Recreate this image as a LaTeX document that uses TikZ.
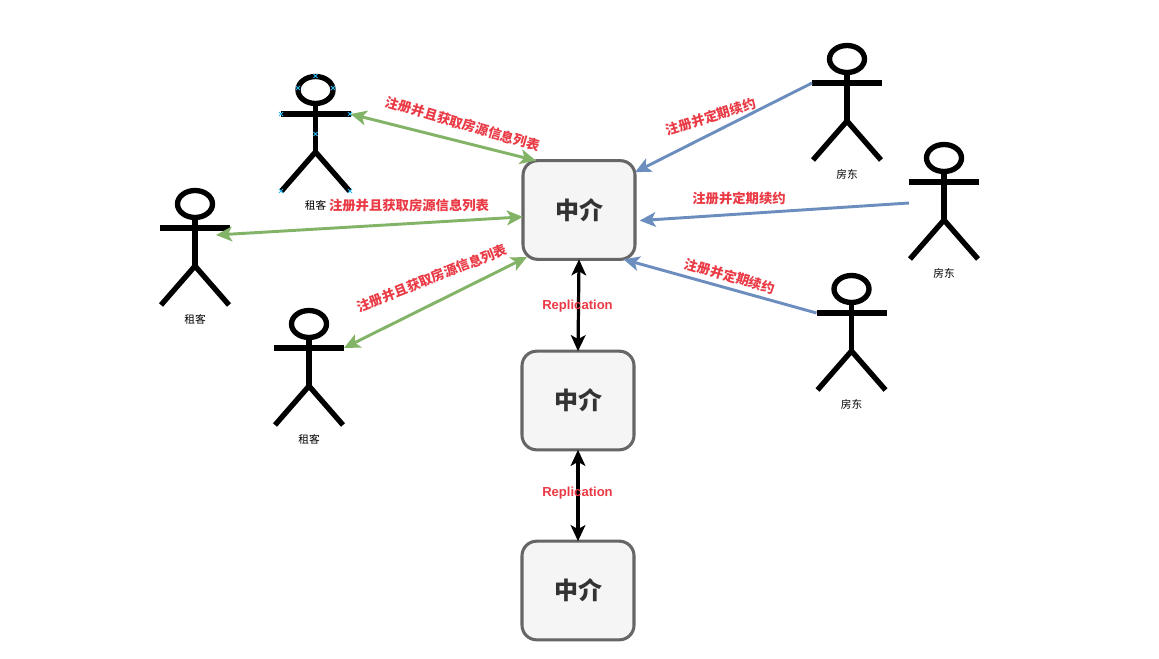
\documentclass[tikz,border=0pt]{standalone}
\usepackage{fontspec}
\setmainfont{Liberation Sans}
\newfontfamily\cjk{Noto Sans CJK SC}
\usetikzlibrary{arrows.meta}
\definecolor{boxgray}{HTML}{666666}
\definecolor{boxfill}{HTML}{F5F5F5}
\definecolor{tenantgreen}{HTML}{82B366}
\definecolor{ownerblue}{HTML}{6C8EBF}
\definecolor{notered}{HTML}{EA3A45}
\definecolor{handleblue}{HTML}{29B6F2}
\tikzset{broker/.style={draw=boxgray,fill=boxfill,line width=2.3pt,rounded corners=11pt,
   minimum width=84pt,minimum height=74pt,outer sep=0pt,text=black!80,font=\cjk\bfseries\fontsize{18}{18}\selectfont},
 man/.style={line width=4pt,black},
 manname/.style={font=\cjk\fontsize{8}{8}\selectfont},
 note/.style={text=notered,font=\cjk\bfseries\fontsize{10}{10}\selectfont,inner sep=0pt},
 repnote/.style={text=notered,font=\bfseries\fontsize{9.8}{10}\selectfont,inner sep=0pt},
 bigtip/.tip={Stealth[length=12pt,width=11pt,inset=3pt]},
 greenline/.style={line width=2.2pt,tenantgreen,bigtip-bigtip},
 blueline/.style={line width=2.2pt,ownerblue,-bigtip},
 blackline/.style={line width=2.4pt,black,bigtip-bigtip},
 }
% name, x, y of the arm line, text
\newcommand{\stickman}[4]{
        \draw[man] (#2,#3-24) ellipse (17.5 and 13.5);
        \draw[man] (#2,#3-10) -- (#2,#3+38);
        \draw[man] (#2-35,#3) -- (#2+35,#3);
        \draw[man] (#2-34,#3+77) -- (#2,#3+38) -- (#2+34,#3+77);
        \coordinate (#1-l) at (#2-35,#3);
        \coordinate (#1-r) at (#2+35,#3);
        \node[manname] (#1-name) at (#2,#3+91) {#4};
}
\begin{document}
\begin{tikzpicture}[x=0.75pt,y=-0.75pt]
        \useasboundingbox[fill=white] (0,0) rectangle (1159,659);

        \node[broker] (brokera) at (579,210) {中介};
        \node[broker] (brokerb) at (578,400.5) {中介};
        \node[broker] (brokerc) at (578,590.5) {中介};

        \stickman{tenanta}{315.5}{114}{租客}
        \stickman{tenantb}{195}{228}{租客}
        \stickman{tenantc}{309}{348}{租客}
        \stickman{ownera}{847}{83}{房东}
        \stickman{ownerb}{944}{182}{房东}
        \stickman{ownerc}{851.5}{313}{房东}

        % selection handles on the first tenant
        \foreach \hx/\hy in {315.5/76,298/88,333/88,281/114,350/114,315.5/134,281/191,350/191}
            \draw[handleblue,line width=.6pt] (\hx-2,\hy-2) -- (\hx+2,\hy+2) (\hx-2,\hy+2) -- (\hx+2,\hy-2);

        \coordinate (tenantb-end) at (216,235);
        \coordinate (ownerb-end) at (909,203);
        \coordinate (brokera-corner) at (527,257);

        \draw[greenline] (tenanta-r) -- (brokera.131);
        \draw[greenline] (tenantb-end) -- (brokera.187);
        \draw[greenline] (tenantc-r) -- (brokera-corner);
        \draw[blueline] (ownera-l) -- (brokera.34);
        \draw[blueline,shorten >=3.5pt] (ownerb-end) -- (brokera.-11);
        \draw[blueline] (ownerc-l) -- (brokera.-48);
        \draw[blackline] (brokera.south) -- (brokerb.north);
        \draw[blackline] (brokerb.south) -- (brokerc.north);

        \node[note,rotate=-16.5] (notea) at (463,124) {注册并且获取房源信息列表};
        \node[note] (noteb) at (409,205) {注册并且获取房源信息列表};
        \node[note,rotate=21.5] (notec) at (432,278) {注册并且获取房源信息列表};
        \node[note,rotate=17] (noted) at (711,116.5) {注册并定期续约};
        \node[note] (notee) at (739,198) {注册并定期续约};
        \node[note,rotate=-16] (notef) at (730,276) {注册并定期续约};
        \node[repnote] (repa) at (577.5,306) {Replication};
        \node[repnote] (repb) at (577.5,493) {Replication};
\end{tikzpicture}
\end{document}
